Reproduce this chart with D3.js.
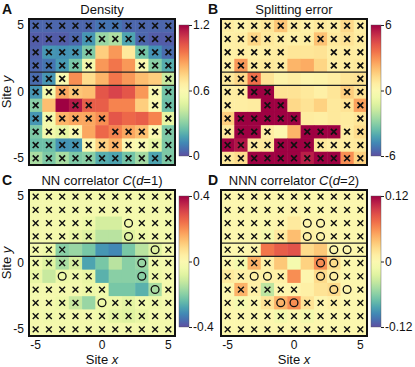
<!DOCTYPE html>
<html lang="en">
<head>
<meta charset="utf-8">
<title>Density and correlators</title>
<script src="https://cdn.jsdelivr.net/npm/d3@7"></script>
<style>
  body { margin: 0; background: #fff; }
  svg text { font-family: "Liberation Sans", Arial, sans-serif; fill: #111; }
</style>
</head>
<body>
<svg id="fig" width="415" height="367"></svg>
<script>
// sites along each axis, rows go from y=5 (top) down to y=-5
const sites = [-5, -4, -3, -2, -1, 0, 1, 2, 3, 4, 5];
const rowsY = [5, 4, 3, 2, 1, 0, -1, -2, -3, -4, -5];

// A: density, one array per row (y=5 first)
const densityVals = [
  [0.05, 0.05, 0.05, 0.05, 0.05, 0.08, 0.08, 0.05, 0.05, 0.05, 0.05],
  [0.03, 0.03, 0.03, 0.05, 0.15, 0.33, 0.37, 0.18, 0.05, 0.03, 0.03],
  [0.04, 0.15, 0.14, 0.15, 0.28, 0.76, 0.88, 0.68, 0.26, 0.14, 0.06],
  [0.05, 0.08, 0.16, 0.27, 0.55, 0.88, 0.95, 0.88, 0.60, 0.30, 0.20],
  [0.06, 0.15, 0.58, 0.90, 0.72, 0.82, 0.95, 0.88, 0.80, 0.76, 0.42],
  [0.15, 0.55, 0.85, 0.78, 0.80, 1.02, 1.06, 1.02, 0.88, 0.58, 0.26],
  [0.30, 0.80, 1.20, 1.15, 1.00, 1.00, 0.92, 0.92, 0.76, 0.60, 0.25],
  [0.15, 0.55, 0.82, 0.85, 0.85, 0.90, 1.02, 0.98, 1.00, 0.92, 0.50],
  [0.28, 0.55, 0.50, 0.60, 0.85, 0.98, 0.92, 0.85, 0.80, 0.60, 0.28],
  [0.25, 0.25, 0.14, 0.15, 0.60, 0.75, 0.82, 0.62, 0.58, 0.50, 0.28],
  [0.36, 0.28, 0.36, 0.28, 0.30, 0.20, 0.18, 0.26, 0.35, 0.18, 0.28]
];
const densityMarks = [
  "xxxxxxxxxxx", "xxxxxxxxxxx", "xxxxx...xxx", "xxxxx...xxx",
  "xxx.......x", "xxxx.....xx", "x..xx....xx", "xxxxxx....x",
  "xxxx..xxxxx", "xxxxxxxxxxx", "xxxxxxxxxxx"
];

// B: splitting error
const splitVals = [
  [0.6, 0.4, 0.6, 0.9, 1.8, 0.7, 0.5, 0.8, 0.6, 1.3, 0.6],
  [0.5, 0.6, 1.4, 0.8, 0.6, 0.5, 0.6, 1.9, 0.8, 1.0, 0.7],
  [0.5, 0.6, 0.5, 0.6, 0.7, 0.9, 0.9, 1.0, 0.6, 0.7, 0.6],
  [0.5, 2.8, 0.7, 0.8, 0.7, 2.2, 2.4, 1.4, 0.6, 0.7, 0.8],
  [0.8, 1.3, 3.6, 1.0, 0.4, 0.6, 0.3, 0.4, 0.6, 0.9, 1.0],
  [0.6, 0.7, 6.0, 6.0, 1.0, 1.0, 0.8, 0.5, 0.9, 1.6, 1.0],
  [0.6, 0.6, 0.7, 6.0, 6.0, 1.3, 1.0, 1.5, 0.8, 1.0, 2.6],
  [1.6, 6.0, 6.0, 6.0, 6.0, 6.0, 0.7, 0.6, 0.8, 0.7, 0.9],
  [0.8, 6.0, 6.0, 0.6, 0.1, 2.2, 6.0, 6.0, 6.0, 0.7, 1.2],
  [6.0, 5.6, 0.7, 0.8, 6.0, 6.0, 6.0, 0.8, 0.6, 0.7, 0.8],
  [0.8, 1.2, 6.0, 6.0, 6.0, 6.0, 5.4, 6.0, 6.0, 3.0, 1.5]
];
const splitMarks = densityMarks;

// C: nearest-neighbour correlator
const nnVals = [
  [-0.03, -0.03, -0.03, -0.03, -0.03, -0.03, -0.03, -0.03, -0.03, -0.03, -0.03],
  [-0.03, -0.03, -0.03, -0.03, -0.03, -0.03, -0.03, -0.03, -0.03, -0.03, -0.03],
  [-0.03, -0.03, -0.03, -0.03, -0.05, -0.10, -0.10, -0.03, -0.03, -0.03, -0.03],
  [-0.03, -0.03, -0.03, -0.06, -0.08, -0.14, -0.14, -0.08, -0.05, -0.03, -0.03],
  [-0.03, -0.05, -0.20, -0.18, -0.22, -0.30, -0.32, -0.22, -0.14, -0.08, -0.03],
  [-0.04, -0.08, -0.16, -0.10, -0.28, -0.22, -0.14, -0.20, -0.18, -0.04, -0.03],
  [-0.06, -0.12, -0.05, -0.04, -0.06, -0.26, -0.20, -0.20, -0.20, -0.05, -0.03],
  [-0.03, -0.03, -0.03, -0.03, -0.05, -0.04, -0.22, -0.22, -0.26, -0.16, -0.03],
  [-0.03, -0.03, -0.05, -0.12, -0.18, -0.05, -0.05, -0.07, -0.04, -0.05, -0.03],
  [-0.03, -0.04, -0.03, -0.03, -0.03, -0.04, -0.07, -0.08, -0.06, -0.03, -0.03],
  [-0.03, -0.03, -0.03, -0.03, -0.03, -0.03, -0.03, -0.03, -0.03, -0.03, -0.03]
];
const nnMarks = [
  "xxxxxxxxxxx", "xxxxxxxxxxx", "xxxxx..oxxx", "xxxxx..oxxx",
  "xxx......ox", "xxxx....oxx", "x.oxx...oxx", "xxxxxx...ox",
  "xxxx.oxxxxx", "xxxxxxxxxxx", "xxxxxxxxxxx"
];

// D: next-nearest-neighbour correlator
const nnnVals = [
  [0.003, 0.003, 0.003, 0.003, 0.003, 0.003, 0.003, 0.003, 0.003, 0.003, 0.003],
  [0.003, 0.003, 0.003, 0.003, 0.003, 0.005, 0.003, 0.003, 0.003, 0.003, 0.003],
  [0.003, 0.003, 0.003, 0.003, 0.005, 0.015, 0.005, 0.005, 0.003, 0.003, 0.003],
  [0.003, 0.003, 0.003, -0.010, 0.015, 0.040, 0.010, 0.008, 0.005, 0.003, 0.003],
  [0.003, 0.003, 0.005, 0.070, 0.080, 0.085, 0.025, 0.035, 0.005, 0.003, 0.003],
  [0.003, -0.010, 0.045, 0.010, 0.035, -0.008, 0.030, 0.060, 0.025, 0.003, 0.003],
  [0.015, 0.010, 0.010, 0.010, 0.010, 0.060, 0.005, 0.025, 0.010, 0.003, 0.003],
  [0.003, 0.045, 0.010, -0.040, 0.005, 0.005, 0.010, 0.020, 0.025, 0.005, 0.003],
  [0.003, -0.008, 0.003, 0.020, 0.045, 0.060, 0.020, 0.005, 0.010, 0.003, 0.003],
  [0.003, 0.003, 0.003, 0.003, -0.010, 0.003, -0.010, 0.003, 0.003, 0.003, 0.003],
  [0.003, 0.003, 0.003, 0.003, 0.003, 0.003, 0.003, 0.003, 0.003, 0.003, 0.003]
];
const nnnMarks = [
  "xxxxxxxxxxx", "xxxxxxxxxxx", "xxxxx.ooxxx", "xxxxx.ooxxx",
  "xxx.....oox", "xxxx...ooxx", "xxoox..ooxx", "xxxxxx..oox",
  "xxxxooxxxxx", "xxxxxxxxxxx", "xxxxxxxxxxx"
];

// colour bar ranges and labels
const densityBar = [0, 0.6, 1.2], densityLabels = ["0", "0.6", "1.2"];
const splitBar = [-6, 0, 6], splitLabels = ["-6", "0", "6"];
const nnBar = [-0.4, 0, 0.4], nnLabels = ["-0.4", "0", "0.4"];
const nnnBar = [-0.12, 0, 0.12], nnnLabels = ["-0.12", "0", "0.12"];

const svg = d3.select("#fig");
const gridSize = 146;

const panels = [
  { id: "A", title: [["Density", false]], vals: densityVals, marks: densityMarks,
    bar: densityBar, labels: densityLabels, gx: 29, gy: 19, yAxis: true, xAxis: false },
  { id: "B", title: [["Splitting error", false]], vals: splitVals, marks: splitMarks,
    bar: splitBar, labels: splitLabels, gx: 221, gy: 19, yAxis: false, xAxis: false },
  { id: "C", title: [["NN correlator ", false], ["C", true], ["(", false], ["d", true], ["=1)", false]],
    vals: nnVals, marks: nnMarks, bar: nnBar, labels: nnLabels, gx: 29, gy: 190, yAxis: true, xAxis: true },
  { id: "D", title: [["NNN correlator ", false], ["C", true], ["(", false], ["d", true], ["=2)", false]],
    vals: nnnVals, marks: nnnMarks, bar: nnnBar, labels: nnnLabels, gx: 221, gy: 190, yAxis: false, xAxis: true }
];

const cmap = t => d3.interpolateSpectral(1 - t);

panels.forEach((p, pi) => {
  const g = svg.append("g").attr("transform", `translate(${p.gx},${p.gy})`);
  const x = d3.scaleBand().domain(sites).range([0, gridSize]);
  const y = d3.scaleBand().domain(rowsY).range([0, gridSize]);
  const color = d3.scaleSequential(cmap).domain([p.bar[0], p.bar[2]]).clamp(true);

  const cells = [];
  rowsY.forEach((ry, i) => sites.forEach((sx, j) => {
    cells.push({ x: sx, y: ry, v: p.vals[i][j], m: p.marks[i][j] });
  }));

  g.selectAll("rect.cell").data(cells).enter().append("rect")
    .attr("class", "cell")
    .attr("x", d => x(d.x)).attr("y", d => y(d.y))
    .attr("width", x.bandwidth() + 0.5).attr("height", y.bandwidth() + 0.5)
    .attr("fill", d => color(d.v));

  // markers
  const half = 2.9;
  const xs = g.selectAll("g.xm").data(cells.filter(d => d.m === "x")).enter().append("g")
    .attr("transform", d => `translate(${x(d.x) + x.bandwidth() / 2},${y(d.y) + y.bandwidth() / 2})`);
  xs.append("path")
    .attr("d", `M${-half},${-half}L${half},${half}M${-half},${half}L${half},${-half}`)
    .attr("stroke", "#111").attr("stroke-width", pi < 2 ? 1.7 : 1.4).attr("fill", "none");
  g.selectAll("circle.om").data(cells.filter(d => d.m === "o")).enter().append("circle")
    .attr("cx", d => x(d.x) + x.bandwidth() / 2).attr("cy", d => y(d.y) + y.bandwidth() / 2)
    .attr("r", 3.9).attr("fill", "none").attr("stroke", "#111").attr("stroke-width", 1.3);

  // lines around the y=1 row
  [y(1), y(0)].forEach(ly => {
    g.append("line").attr("x1", 0).attr("x2", gridSize).attr("y1", ly).attr("y2", ly)
      .attr("stroke", "#222").attr("stroke-width", 1.4);
  });
  g.append("rect").attr("width", gridSize).attr("height", gridSize)
    .attr("fill", "none").attr("stroke", "#111").attr("stroke-width", 2);

  // axes
  if (p.yAxis) {
    const ay = g.append("g").call(d3.axisLeft(y).tickValues([5, 0, -5]).tickSize(0).tickPadding(5)
      .tickFormat(d => d < 0 ? "-" + Math.abs(d) : d));
    ay.select(".domain").remove();
    ay.selectAll("text").attr("font-size", 12).style("font-family", "Liberation Sans, Arial, sans-serif");
    g.append("text").attr("transform", `translate(-18,${gridSize / 2}) rotate(-90)`)
      .attr("text-anchor", "middle").attr("font-size", 13)
      .html('Site <tspan font-style="italic">y</tspan>');
  }
  if (p.xAxis) {
    const ax = g.append("g").attr("transform", `translate(0,${gridSize})`)
      .call(d3.axisBottom(x).tickValues([-5, 0, 5]).tickSize(0).tickPadding(4)
        .tickFormat(d => d < 0 ? "-" + Math.abs(d) : d));
    ax.select(".domain").remove();
    ax.selectAll("text").attr("font-size", 12).style("font-family", "Liberation Sans, Arial, sans-serif");
    g.append("text").attr("x", gridSize / 2).attr("y", gridSize + 28)
      .attr("text-anchor", "middle").attr("font-size", 13)
      .html('Site <tspan font-style="italic">x</tspan>');
  }

  // title and panel letter
  const t = g.append("text").attr("x", gridSize / 2).attr("y", -5)
    .attr("text-anchor", "middle").attr("font-size", 13);
  p.title.forEach(([s, it]) => t.append("tspan").text(s).attr("font-style", it ? "italic" : null));
  g.append("text").attr("x", -p.gx + (p.gx > 100 ? 208 : 2)).attr("y", -5)
    .attr("font-size", 14).attr("font-weight", "bold").text(p.id);

  // colour bar
  const bx = gridSize + 4, by = 6, bw = 10, bh = 131;
  const gid = "grad" + p.id;
  const grad = svg.append("defs").append("linearGradient").attr("id", gid)
    .attr("x1", 0).attr("y1", 1).attr("x2", 0).attr("y2", 0);
  d3.range(0, 1.0001, 0.05).forEach(s => grad.append("stop")
    .attr("offset", s).attr("stop-color", cmap(s)));
  const cb = g.append("g").attr("transform", `translate(${bx},${by})`);
  cb.append("rect").attr("width", bw).attr("height", bh).attr("fill", `url(#${gid})`)
    .attr("stroke", "#555").attr("stroke-width", 0.4);
  const cs = d3.scaleLinear().domain([p.bar[0], p.bar[2]]).range([bh, 0]);
  const ac = cb.append("g").attr("transform", `translate(${bw},0)`)
    .call(d3.axisRight(cs).tickValues(p.bar).tickSize(3).tickPadding(1)
      .tickFormat((d, i) => p.labels[i]));
  ac.select(".domain").remove();
  ac.selectAll("line").attr("stroke", "#222");
  ac.selectAll("text").attr("font-size", 12).style("font-family", "Liberation Sans, Arial, sans-serif");
});
</script>
</body>
</html>
